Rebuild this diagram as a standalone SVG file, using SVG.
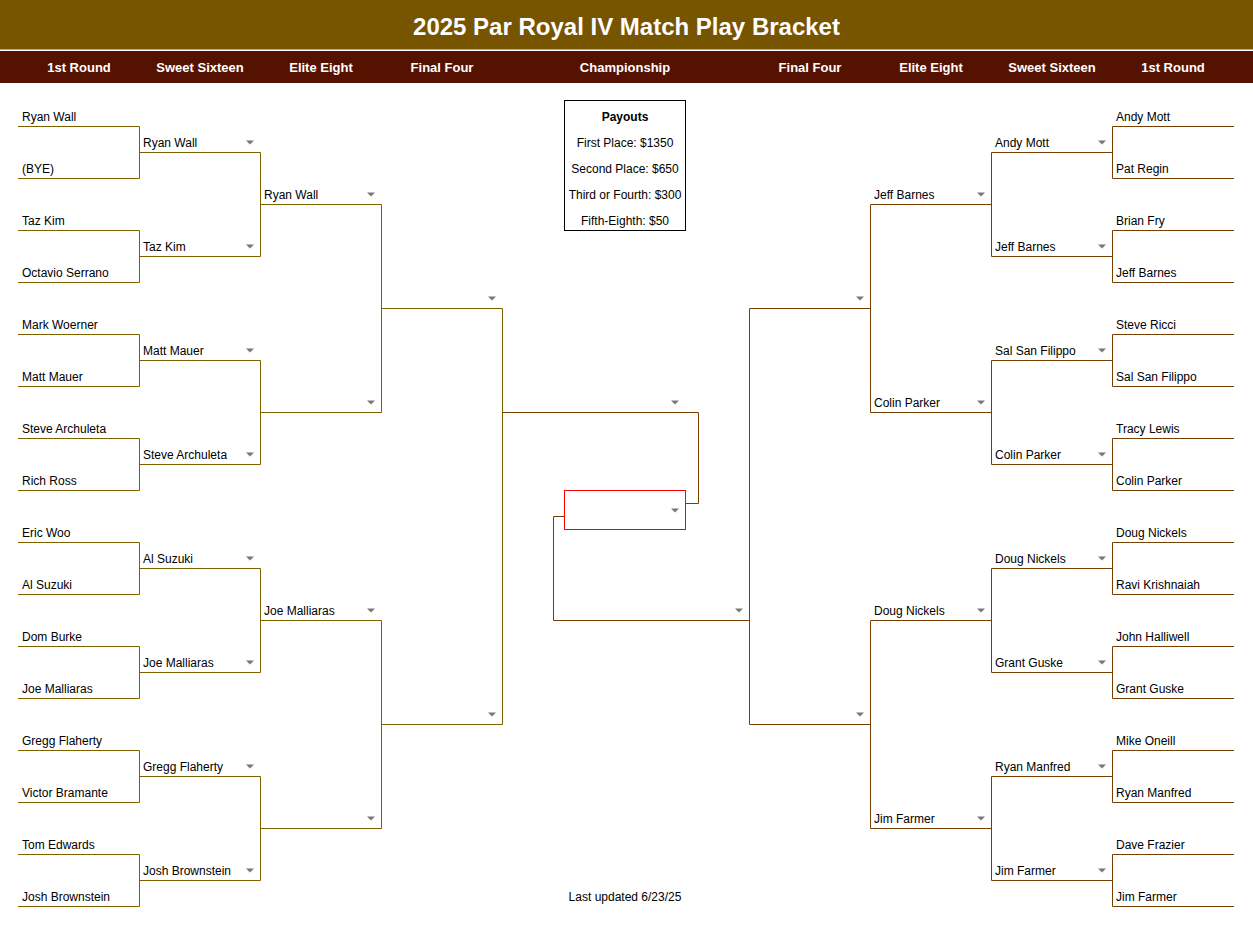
<svg xmlns="http://www.w3.org/2000/svg" width="1253" height="928" viewBox="0 0 1253 928">
<style>
.t{font-family:"Liberation Sans",Arial,sans-serif;font-size:12px;fill:#000}
.h{font-family:"Liberation Sans",Arial,sans-serif;font-size:13px;font-weight:bold;fill:#fff;text-anchor:middle}
.title{font-family:"Liberation Sans",Arial,sans-serif;font-size:24px;font-weight:bold;fill:#fff;text-anchor:middle}
.c{text-anchor:middle}
.b{font-weight:bold}
.L{fill:none;stroke:#7f6000;stroke-width:1}
.R{fill:none;stroke:#783f04;stroke-width:1}
.ar{fill:#777}
</style>
<defs>
<polygon id="arrow" class="ar" points="-4,-11.5 4,-11.5 0,-7.5"/>
</defs>
<rect width="1253" height="928" fill="#fff"/>
<g id="titlebar">
<rect x="0" y="0" width="1253" height="49.5" fill="#775400"/>
<text class="title" x="626.5" y="34.5">2025 Par Royal IV Match Play Bracket</text>
</g>
<g id="headerbar">
<rect x="0" y="51" width="1253" height="32" fill="#561200"/>
<text class="h" x="79" y="72">1st Round</text>
<text class="h" x="200" y="72">Sweet Sixteen</text>
<text class="h" x="321" y="72">Elite Eight</text>
<text class="h" x="442" y="72">Final Four</text>
<text class="h" x="625" y="72">Championship</text>
<text class="h" x="810" y="72">Final Four</text>
<text class="h" x="931" y="72">Elite Eight</text>
<text class="h" x="1052" y="72">Sweet Sixteen</text>
<text class="h" x="1173" y="72">1st Round</text>
</g>
<g id="connectors">
<path class="L" d="M18 126.5H139.5V178.5H18"/>
<path class="L" d="M18 230.5H139.5V282.5H18"/>
<path class="L" d="M18 334.5H139.5V386.5H18"/>
<path class="L" d="M18 438.5H139.5V490.5H18"/>
<path class="L" d="M18 542.5H139.5V594.5H18"/>
<path class="L" d="M18 646.5H139.5V698.5H18"/>
<path class="L" d="M18 750.5H139.5V802.5H18"/>
<path class="L" d="M18 854.5H139.5V906.5H18"/>
<path class="L" d="M139.5 152.5H260.5V256.5H139.5"/>
<path class="L" d="M139.5 360.5H260.5V464.5H139.5"/>
<path class="L" d="M139.5 568.5H260.5V672.5H139.5"/>
<path class="L" d="M139.5 776.5H260.5V880.5H139.5"/>
<path class="L" d="M260.5 204.5H381.5V412.5H260.5"/>
<path class="L" d="M260.5 620.5H381.5V828.5H260.5"/>
<path class="L" d="M381.5 308.5H502.5V724.5H381.5"/>
<path class="R" d="M502.5 412.5H698.5V503.5H685.5"/>
<path class="R" d="M564.5 516.5H553.5V620.5H749.5"/>
<path class="R" d="M870.5 308.5H749.5V724.5H870.5"/>
<path class="R" d="M991.5 204.5H870.5V412.5H991.5"/>
<path class="R" d="M991.5 620.5H870.5V828.5H991.5"/>
<path class="R" d="M1112.5 152.5H991.5V256.5H1112.5"/>
<path class="R" d="M1112.5 360.5H991.5V464.5H1112.5"/>
<path class="R" d="M1112.5 568.5H991.5V672.5H1112.5"/>
<path class="R" d="M1112.5 776.5H991.5V880.5H1112.5"/>
<path class="R" d="M1234 126.5H1112.5V178.5H1234"/>
<path class="R" d="M1234 230.5H1112.5V282.5H1234"/>
<path class="R" d="M1234 334.5H1112.5V386.5H1234"/>
<path class="R" d="M1234 438.5H1112.5V490.5H1234"/>
<path class="R" d="M1234 542.5H1112.5V594.5H1234"/>
<path class="R" d="M1234 646.5H1112.5V698.5H1234"/>
<path class="R" d="M1234 750.5H1112.5V802.5H1234"/>
<path class="R" d="M1234 854.5H1112.5V906.5H1234"/>
</g>
<g id="left-r1">
<text class="t" x="22" y="121">Ryan Wall</text>
<text class="t" x="22" y="173">(BYE)</text>
<text class="t" x="22" y="225">Taz Kim</text>
<text class="t" x="22" y="277">Octavio Serrano</text>
<text class="t" x="22" y="329">Mark Woerner</text>
<text class="t" x="22" y="381">Matt Mauer</text>
<text class="t" x="22" y="433">Steve Archuleta</text>
<text class="t" x="22" y="485">Rich Ross</text>
<text class="t" x="22" y="537">Eric Woo</text>
<text class="t" x="22" y="589">Al Suzuki</text>
<text class="t" x="22" y="641">Dom Burke</text>
<text class="t" x="22" y="693">Joe Malliaras</text>
<text class="t" x="22" y="745">Gregg Flaherty</text>
<text class="t" x="22" y="797">Victor Bramante</text>
<text class="t" x="22" y="849">Tom Edwards</text>
<text class="t" x="22" y="901">Josh Brownstein</text>
</g>
<g id="left-s16">
<text class="t" x="143" y="147">Ryan Wall</text><use href="#arrow" x="250" y="152"/>
<text class="t" x="143" y="251">Taz Kim</text><use href="#arrow" x="250" y="256"/>
<text class="t" x="143" y="355">Matt Mauer</text><use href="#arrow" x="250" y="360"/>
<text class="t" x="143" y="459">Steve Archuleta</text><use href="#arrow" x="250" y="464"/>
<text class="t" x="143" y="563">Al Suzuki</text><use href="#arrow" x="250" y="568"/>
<text class="t" x="143" y="667">Joe Malliaras</text><use href="#arrow" x="250" y="672"/>
<text class="t" x="143" y="771">Gregg Flaherty</text><use href="#arrow" x="250" y="776"/>
<text class="t" x="143" y="875">Josh Brownstein</text><use href="#arrow" x="250" y="880"/>
</g>
<g id="left-e8">
<text class="t" x="264" y="199">Ryan Wall</text><use href="#arrow" x="371" y="204"/>
<use href="#arrow" x="371" y="412"/>
<text class="t" x="264" y="615">Joe Malliaras</text><use href="#arrow" x="371" y="620"/>
<use href="#arrow" x="371" y="828"/>
</g>
<g id="left-ff">
<use href="#arrow" x="492" y="308"/>
<use href="#arrow" x="492" y="724"/>
</g>
<g id="championship">
<use href="#arrow" x="675" y="412"/>
<rect x="564.5" y="490.5" width="121" height="39" fill="none" stroke="#ff0000" stroke-width="1"/>
<use href="#arrow" x="675" y="520"/>
<use href="#arrow" x="739" y="620"/>
</g>
<g id="payouts">
<rect x="564.5" y="100.5" width="121" height="130" fill="#fff" stroke="#000" stroke-width="1"/>
<text class="t c b" x="625" y="121">Payouts</text>
<text class="t c" x="625" y="147">First Place: $1350</text>
<text class="t c" x="625" y="173">Second Place: $650</text>
<text class="t c" x="625" y="199">Third or Fourth: $300</text>
<text class="t c" x="625" y="225">Fifth-Eighth: $50</text>
</g>
<g id="right-ff">
<use href="#arrow" x="860" y="308"/>
<use href="#arrow" x="860" y="724"/>
</g>
<g id="right-e8">
<text class="t" x="874" y="199">Jeff Barnes</text><use href="#arrow" x="981" y="204"/>
<text class="t" x="874" y="407">Colin Parker</text><use href="#arrow" x="981" y="412"/>
<text class="t" x="874" y="615">Doug Nickels</text><use href="#arrow" x="981" y="620"/>
<text class="t" x="874" y="823">Jim Farmer</text><use href="#arrow" x="981" y="828"/>
</g>
<g id="right-s16">
<text class="t" x="995" y="147">Andy Mott</text><use href="#arrow" x="1102" y="152"/>
<text class="t" x="995" y="251">Jeff Barnes</text><use href="#arrow" x="1102" y="256"/>
<text class="t" x="995" y="355">Sal San Filippo</text><use href="#arrow" x="1102" y="360"/>
<text class="t" x="995" y="459">Colin Parker</text><use href="#arrow" x="1102" y="464"/>
<text class="t" x="995" y="563">Doug Nickels</text><use href="#arrow" x="1102" y="568"/>
<text class="t" x="995" y="667">Grant Guske</text><use href="#arrow" x="1102" y="672"/>
<text class="t" x="995" y="771">Ryan Manfred</text><use href="#arrow" x="1102" y="776"/>
<text class="t" x="995" y="875">Jim Farmer</text><use href="#arrow" x="1102" y="880"/>
</g>
<g id="right-r1">
<text class="t" x="1116" y="121">Andy Mott</text>
<text class="t" x="1116" y="173">Pat Regin</text>
<text class="t" x="1116" y="225">Brian Fry</text>
<text class="t" x="1116" y="277">Jeff Barnes</text>
<text class="t" x="1116" y="329">Steve Ricci</text>
<text class="t" x="1116" y="381">Sal San Filippo</text>
<text class="t" x="1116" y="433">Tracy Lewis</text>
<text class="t" x="1116" y="485">Colin Parker</text>
<text class="t" x="1116" y="537">Doug Nickels</text>
<text class="t" x="1116" y="589">Ravi Krishnaiah</text>
<text class="t" x="1116" y="641">John Halliwell</text>
<text class="t" x="1116" y="693">Grant Guske</text>
<text class="t" x="1116" y="745">Mike Oneill</text>
<text class="t" x="1116" y="797">Ryan Manfred</text>
<text class="t" x="1116" y="849">Dave Frazier</text>
<text class="t" x="1116" y="901">Jim Farmer</text>
</g>
<g id="footer">
<text class="t c" x="625" y="901">Last updated 6/23/25</text>
</g>
</svg>
